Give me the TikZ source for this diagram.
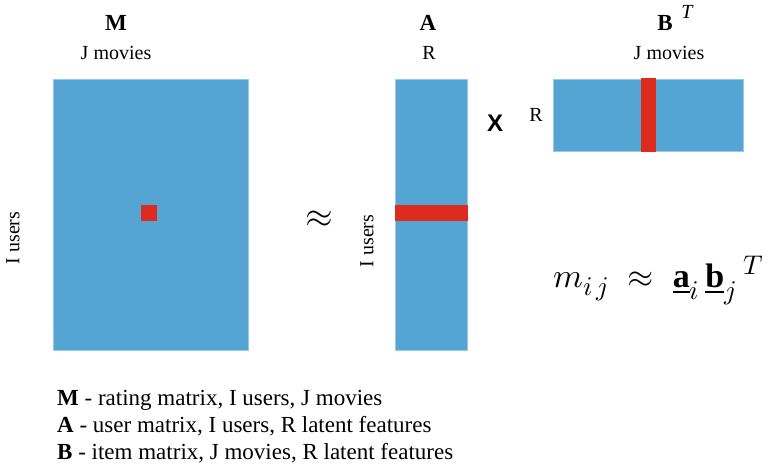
\documentclass[tikz,border=0pt]{standalone}
\usepackage{amsmath}
\usepackage{fontspec}
\usepackage{unicode-math}
\setmainfont{Liberation Serif}
\setmathfont{Latin Modern Math}
\newfontfamily\arialfont{Liberation Sans}
\DeclareMathSizes{34}{34}{27}{20}
\usetikzlibrary{positioning}
\definecolor{MatBlue}{RGB}{84,165,212}
\definecolor{CellRed}{RGB}{221,43,30}

\begin{document}
\begin{tikzpicture}[
  x=1pt, y=-1pt,
  mat/.style={
    fill=MatBlue,
    draw=MatBlue!60!white,
    line width=0.6pt,
    inner sep=0pt,
    anchor=north west
  },
  cell/.style={fill=CellRed, inner sep=0pt},
  title/.style={font=\fontsize{23}{26}\selectfont\bfseries},
  lbl/.style={font=\fontsize{20}{24}\selectfont},
  legend/.style={
    font=\fontsize{23}{27}\selectfont,
    anchor=base west,
    inner sep=0pt
  }
]
\useasboundingbox (0,0) rectangle (770,466);

\node[mat, minimum width=195pt, minimum height=271pt] (M) at (53,79) {};
\node[mat, minimum width=72pt, minimum height=271pt] (A) at (395,79) {};
\node[mat, minimum width=190pt, minimum height=72pt] (B) at (553,79) {};

\node[cell, minimum width=16pt, minimum height=16pt] (mij) at (149,213) {};
\node[cell, minimum width=73pt, minimum height=16pt] (ai) at (431,213) {};
\node[cell, minimum width=15pt, minimum height=74pt] (bj) at (648.5,115) {};

\node[title] (Mtitle) at (116,23) {M};
\node[lbl] (Mcols) at (116,53) {J movies};
\node[lbl, rotate=90] (Mrows) at (13,238) {I users};

\node[title] (Atitle) at (428,23) {A};
\node[lbl] (Acols) at (429,53) {R};
\node[lbl, rotate=90] (Arows) at (367,241) {I users};

\node[title] (Btitle) at (665,23) {B};
\node[lbl, font=\fontsize{20}{24}\selectfont\itshape] (Btrans) at (687,12) {T};
\node[lbl] (Bcols) at (669,53) {J movies};
\node[lbl] (Brows) at (536,115) {R};

\node[font=\fontsize{36}{36}\selectfont] (approx) at (319,219) {$\approx$};
\node[font=\fontsize{24}{24}\selectfont\arialfont\bfseries] (times) at (495,123) {X};

\node[anchor=base west, inner sep=0pt, font=\fontsize{34}{34}\selectfont] (formula) at (553,287)
  {$m_{i\,j}\;\approx\;\underline{\mathbf{a}}_i\,\underline{\mathbf{b}}_j{}^{\;T}$};

\node[legend] (keyM) at (57,405) {\textbf{M} - rating matrix, I users, J movies};
\node[legend] (keyA) at (57,432) {\textbf{A} - user matrix, I users, R latent features};
\node[legend] (keyB) at (57,459) {\textbf{B} - item matrix, J movies, R latent features};

\end{tikzpicture}
\end{document}
